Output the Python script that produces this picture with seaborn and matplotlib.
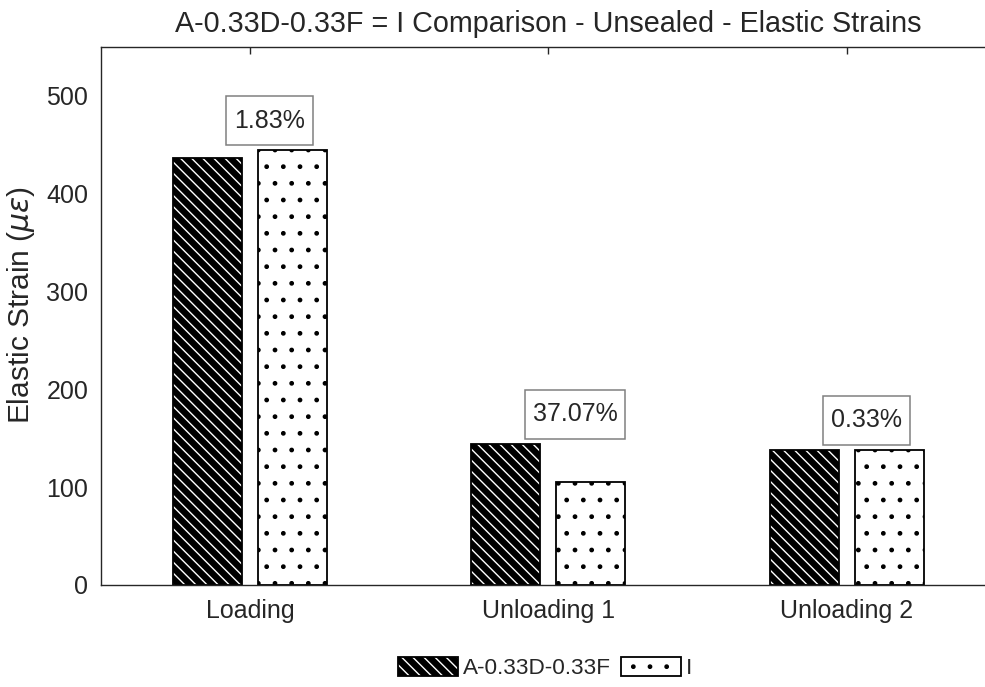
import matplotlib
matplotlib.use('Agg')
import matplotlib.pyplot as plt
from matplotlib.patches import Rectangle
import seaborn as sns
import pandas as pd

# values
phases = ['Loading', 'Unloading 1', 'Unloading 2']
series = ['A-0.33D-0.33F', 'I']
strain_a = [436.5, 144.5, 137.8]
strain_i = [444.5, 105.4, 138.25]
pct_labels = ['1.83%', '37.07%', '0.33%']
y_ticks = [0, 100, 200, 300, 400, 500]

df = pd.DataFrame({
    'phase': phases * 2,
    'strain': strain_a + strain_i,
    'series': [series[0]] * len(phases) + [series[1]] * len(phases),
})

sns.set_theme(style='white')
plt.rcParams['font.family'] = ['Liberation Sans', 'DejaVu Sans']
plt.rcParams['mathtext.fontset'] = 'dejavusans'
plt.rcParams['hatch.linewidth'] = 1.0
txt_color = '#262626'
back_hatch = chr(92) * 3   # three backslashes -> denser diagonal lines

fig = plt.figure(figsize=(9.85, 6.87), dpi=100)
ax = fig.add_axes([0.1022, 0.1485, 0.9090, 0.7831])

sns.barplot(data=df, x='phase', y='strain', hue='series', palette=['black', 'white'],
            width=0.57, gap=0.19, saturation=1, legend=False, ax=ax)

def hatch_color(p, c):
    if hasattr(p, 'set_hatchcolor'):
        p.set_hatchcolor(c)
    else:
        p._hatch_color = matplotlib.colors.to_rgba(c)

for bar in ax.containers[0]:
    bar.set_hatch(back_hatch)
    bar.set_edgecolor('black')
    bar.set_linewidth(1.3)
    hatch_color(bar, 'white')
for bar in ax.containers[1]:
    bar.set_hatch('.')
    bar.set_edgecolor('black')
    bar.set_linewidth(1.3)
    hatch_color(bar, 'black')

ax.set_xlim(-0.5, 2.5)
ax.set_ylim(0, 550)
ax.set_yticks(y_ticks)
ax.set_xlabel('')
ax.set_ylabel(r'Elastic Strain ($\mu\epsilon$)', fontsize=21.5, color=txt_color)
ax.yaxis.set_label_coords(-0.071, 0.52)
ax.set_title('A-0.33D-0.33F = I Comparison - Unsealed - Elastic Strains',
             fontsize=20.7, color=txt_color, pad=11)
ax.tick_params(axis='both', direction='in', length=5, width=1, top=True, right=True,
               colors=txt_color, labelsize=18)
ax.tick_params(axis='y', pad=9)
ax.tick_params(axis='x', pad=10)
for s in ax.spines.values():
    s.set_visible(True)
    s.set_color(txt_color)
    s.set_linewidth(1)

# percent difference labels with boxes
texts = []
for i, (a, b, lab) in enumerate(zip(strain_a, strain_i, pct_labels)):
    t = ax.text(i - 0.053, max(a, b) + 30, lab, ha='left', va='center',
                fontsize=18, color=txt_color)
    texts.append(t)

fig.canvas.draw()
inv = fig.transFigure.inverted()
for t in texts:
    bb = t.get_window_extent()
    yc = (bb.y0 + bb.y1) / 2
    x0, y0 = inv.transform((bb.x0 - 8, yc - 24.5))
    x1, y1 = inv.transform((bb.x1 + 8, yc + 24.5))
    fig.add_artist(Rectangle((x0, y0), x1 - x0, y1 - y0, transform=fig.transFigure,
                             fill=False, edgecolor='#808080', linewidth=1.1))

fig.legend(handles=[ax.containers[0][0], ax.containers[1][0]], labels=series,
           loc='center', bbox_to_anchor=(545 / 985, 1 - 668 / 687), ncol=2,
           frameon=False, fontsize=16.2, handlelength=2.67, handleheight=0.9,
           handletextpad=0.2, columnspacing=0.45, labelcolor=txt_color)

fig.savefig('out.png', dpi=100)
